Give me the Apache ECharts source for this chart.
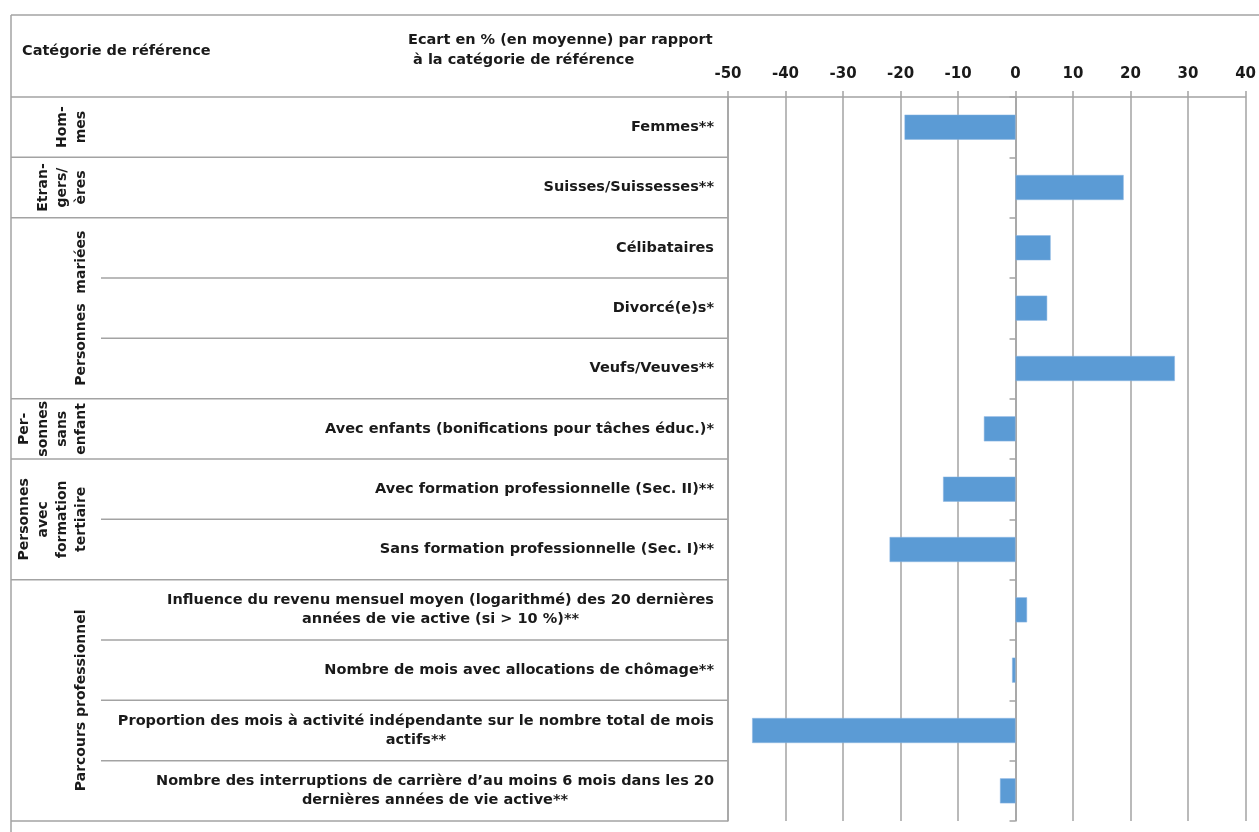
<!DOCTYPE html>
<html>
<head>
<meta charset="utf-8">
<script src="https://cdn.jsdelivr.net/npm/echarts@6/dist/echarts.min.js"></script>
<style>
  html, body { margin: 0; padding: 0; background: #fff; }
  #chart { width: 1259px; height: 832px; }
</style>
</head>
<body>
<div id="chart"></div>
<script>
// rows, top to bottom
var categories = [
  'Femmes**',
  'Suisses/Suissesses**',
  'Célibataires',
  'Divorcé(e)s*',
  'Veufs/Veuves**',
  'Avec enfants (bonifications pour tâches éduc.)*',
  'Avec formation professionnelle (Sec. II)**',
  'Sans formation professionnelle (Sec. I)**',
  'Influence du revenu mensuel moyen (logarithmé) des 20 dernières\nannées de vie active (si > 10 %)**',
  'Nombre de mois avec allocations de chômage**',
  'Proportion des mois à activité indépendante sur le nombre total de mois\nactifs**',
  'Nombre des interruptions de carrière d\u2019au moins 6 mois dans les 20\ndernières années de vie active**'
];
var values = [-19.3, 18.8, 6.1, 5.5, 27.7, -5.5, -12.6, -21.9, 2.0, -0.6, -45.8, -2.7];

// reference categories, each spanning groupSizes rows
var groupLabels = ['Hom-\nmes', 'Etran-\ngers/\nères', 'Personnes  mariées', 'Per-\nsonnes\nsans\nenfant', 'Personnes\navec\nformation\ntertiaire', 'Parcours professionnel'];
var groupSizes = [1, 1, 3, 1, 2, 4];

var xMin = -50, xMax = 40, xStep = 10;

var LINE = '#a3a3a3';
var TEXT = '#1a1a1a';
var FONT_FAMILY = '"DejaVu Sans", sans-serif';
var FONT_SIZE = 14.5;
var TABLE_LEFT = 11;
var INNER_LEFT = 101;

var groupOf = [], groupStart = [];
var k = 0;
groupSizes.forEach(function (n, g) {
  groupStart.push(k);
  for (var j = 0; j < n; j++) groupOf.push(g);
  k += n;
});

var measureCtx = document.createElement('canvas').getContext('2d');
measureCtx.font = 'bold ' + FONT_SIZE + 'px ' + FONT_FAMILY;
function blockWidth(s) {
  return Math.max.apply(null, s.split('\n').map(function (l) { return measureCtx.measureText(l).width; }));
}

function renderTable(params, api) {
  var i = api.value(1);
  var c = api.coord([0, i]);
  var h = api.size([0, 1])[1];
  var top = c[1] - h / 2, bottom = c[1] + h / 2;
  var right = params.coordSys.x;
  var g = groupOf[i];
  var isEnd = i === groupStart[g] + groupSizes[g] - 1;
  var children = [];
  children.push({
    type: 'line',
    shape: { x1: isEnd ? TABLE_LEFT : INNER_LEFT, y1: bottom, x2: right, y2: bottom },
    style: { stroke: LINE, lineWidth: 1.5 }
  });
  if (i === 0) {
    children.push({
      type: 'line',
      shape: { x1: TABLE_LEFT, y1: top, x2: right, y2: top },
      style: { stroke: LINE, lineWidth: 1.5 }
    });
  }
  var w = blockWidth(categories[i]);
  children.push({
    type: 'text',
    x: right - 14 - w / 2,
    y: c[1],
    style: {
      text: categories[i], align: 'center', verticalAlign: 'middle',
      fontSize: FONT_SIZE, fontWeight: 'bold', fontFamily: FONT_FAMILY,
      lineHeight: 19, fill: TEXT
    }
  });
  if (i === groupStart[g]) {
    var last = groupStart[g] + groupSizes[g] - 1;
    var y0 = top, y1 = api.coord([0, last])[1] + h / 2;
    children.push({
      type: 'text',
      x: 91,
      y: (y0 + y1) / 2,
      rotation: Math.PI / 2,
      style: {
        text: groupLabels[g], align: 'center', verticalAlign: 'bottom',
        fontSize: 14, fontWeight: 'bold', fontFamily: FONT_FAMILY,
        lineHeight: 19, fill: TEXT
      }
    });
  }
  return { type: 'group', children: children };
}

var chart = echarts.init(document.getElementById('chart'));
chart.setOption({
  animation: false,
  backgroundColor: '#fff',
  textStyle: { fontFamily: FONT_FAMILY },
  grid: { left: 728, right: 12, top: 97, bottom: 11, containLabel: false },
  graphic: [
    { type: 'line', shape: { x1: TABLE_LEFT, y1: 15, x2: 1259, y2: 15 }, style: { stroke: LINE, lineWidth: 1.5 } },
    { type: 'line', shape: { x1: TABLE_LEFT, y1: 15, x2: TABLE_LEFT, y2: 832 }, style: { stroke: LINE, lineWidth: 1.5 } },
    {
      type: 'text', left: 22, top: 44,
      style: { text: 'Catégorie de référence', fontSize: FONT_SIZE, fontWeight: 'bold', fontFamily: FONT_FAMILY, fill: TEXT }
    },
    {
      type: 'text', left: 408, top: 30,
      style: {
        text: 'Ecart en % (en moyenne) par rapport\n à la catégorie de référence',
        fontSize: FONT_SIZE, fontWeight: 'bold', fontFamily: FONT_FAMILY, fill: TEXT, lineHeight: 20
      }
    }
  ],
  xAxis: {
    type: 'value',
    position: 'top',
    min: xMin, max: xMax, interval: xStep,
    axisLine: { show: true, lineStyle: { color: LINE, width: 1.5 } },
    axisTick: { show: true, length: 6, lineStyle: { color: LINE, width: 1.5 } },
    axisLabel: { color: TEXT, fontSize: 15, fontWeight: 'bold', margin: 15 },
    splitLine: { show: true, lineStyle: { color: LINE, width: 1.5 } }
  },
  yAxis: [
    {
      type: 'category', inverse: true, data: categories,
      axisLine: { show: true, onZero: false, lineStyle: { color: LINE, width: 1.5 } },
      axisTick: { show: false },
      axisLabel: { show: false }
    },
    {
      type: 'category', inverse: true, data: categories, position: 'left',
      axisLine: { show: true, onZero: true, lineStyle: { color: LINE, width: 1.5 } },
      axisTick: { show: true, length: 6, lineStyle: { color: LINE, width: 1.5 } },
      axisLabel: { show: false }
    }
  ],
  series: [
    {
      type: 'bar',
      data: values,
      barWidth: 25,
      itemStyle: { color: '#5b9bd5', borderColor: '#8db6e3', borderWidth: 0.5 }
    },
    {
      type: 'custom',
      renderItem: renderTable,
      data: categories.map(function (c, i) { return [0, i]; }),
      encode: { x: 0, y: 1 },
      clip: false,
      silent: true,
      z: 1
    }
  ]
});
</script>
</body>
</html>
